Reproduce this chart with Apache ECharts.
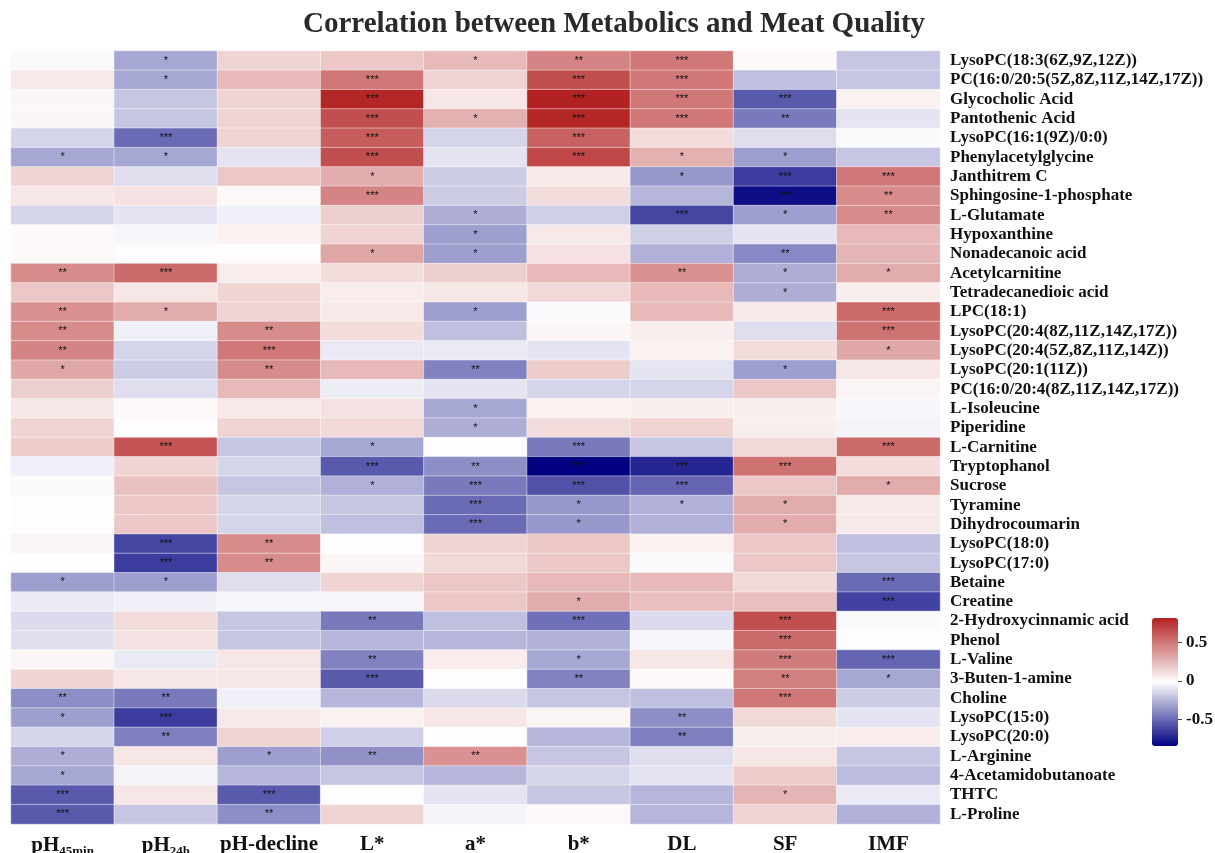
<!DOCTYPE html>
<html>
<head>
<meta charset="utf-8">
<script src="https://cdn.jsdelivr.net/npm/echarts@6/dist/echarts.min.js"></script>
<style>
html,body{margin:0;padding:0;background:#fff;}
#main{width:1215px;height:853px;}
</style>
</head>
<body>
<div id="main"></div>
<script>
// ---------- DATA ----------
const traits = ['pH45min', 'pH24h', 'pH-decline', 'L*', 'a*', 'b*', 'DL', 'SF', 'IMF'];
const metabolites = [
  'LysoPC(18:3(6Z,9Z,12Z))', 'PC(16:0/20:5(5Z,8Z,11Z,14Z,17Z))', 'Glycocholic Acid', 'Pantothenic Acid',
  'LysoPC(16:1(9Z)/0:0)', 'Phenylacetylglycine', 'Janthitrem C', 'Sphingosine-1-phosphate', 'L-Glutamate',
  'Hypoxanthine', 'Nonadecanoic acid', 'Acetylcarnitine', 'Tetradecanedioic acid', 'LPC(18:1)',
  'LysoPC(20:4(8Z,11Z,14Z,17Z))', 'LysoPC(20:4(5Z,8Z,11Z,14Z))', 'LysoPC(20:1(11Z))', 'PC(16:0/20:4(8Z,11Z,14Z,17Z))',
  'L-Isoleucine', 'Piperidine', 'L-Carnitine', 'Tryptophanol', 'Sucrose', 'Tyramine', 'Dihydrocoumarin',
  'LysoPC(18:0)', 'LysoPC(17:0)', 'Betaine', 'Creatine', '2-Hydroxycinnamic acid', 'Phenol', 'L-Valine',
  '3-Buten-1-amine', 'Choline', 'LysoPC(15:0)', 'LysoPC(20:0)', 'L-Arginine', '4-Acetamidobutanoate', 'THTC', 'L-Proline'
];
// correlation values, one array per trait (rows in metabolite order)
const r_pH45min = [-0.03,0.07,0.02,0.02,-0.15,-0.3,0.15,0.08,-0.15,0.01,0.01,0.42,0.2,0.4,0.42,0.45,0.32,0.17,0.08,0.15,0.18,-0.06,-0.03,-0.02,0.0,0.03,-0.01,-0.33,-0.08,-0.13,-0.12,0.02,0.15,-0.38,-0.33,-0.15,-0.28,-0.3,-0.55,-0.55];
const r_pH24h = [-0.3,-0.3,-0.2,-0.2,-0.5,-0.3,-0.12,0.1,-0.1,-0.04,0.0,0.55,0.08,0.3,-0.06,-0.15,-0.18,-0.12,0.01,0.0,0.63,0.15,0.22,0.2,0.2,-0.62,-0.65,-0.33,-0.06,0.12,0.1,-0.08,0.08,-0.45,-0.65,-0.43,0.08,-0.05,0.08,-0.2];
const r_pHdecline = [0.15,0.25,0.15,0.15,0.15,-0.1,0.2,0.01,-0.06,0.04,0.0,0.06,0.15,0.15,0.42,0.5,0.42,0.25,0.07,0.15,-0.2,-0.15,-0.2,-0.15,-0.15,0.42,0.42,-0.12,-0.04,-0.2,-0.2,0.08,0.08,-0.06,0.07,0.15,-0.33,-0.25,-0.55,-0.38];
const r_L = [0.2,0.5,0.8,0.65,0.6,0.65,0.3,0.45,0.17,0.15,0.32,0.12,0.06,0.07,0.12,-0.08,0.25,-0.07,0.1,0.13,-0.3,-0.55,-0.27,-0.2,-0.22,-0.02,0.02,0.15,-0.04,-0.45,-0.25,-0.42,-0.55,-0.25,0.04,-0.17,-0.37,-0.2,0.0,0.15];
const r_a = [0.25,0.15,0.08,0.28,-0.15,-0.1,-0.18,-0.18,-0.28,-0.33,-0.33,0.17,0.08,-0.33,-0.22,-0.08,-0.42,-0.1,-0.3,-0.28,0.0,-0.38,-0.45,-0.5,-0.5,0.15,0.13,0.2,0.2,-0.22,-0.25,0.06,-0.02,-0.13,0.08,-0.02,0.4,-0.25,-0.1,-0.05];
const r_b = [0.45,0.65,0.82,0.8,0.58,0.68,0.07,0.12,-0.17,0.07,0.1,0.25,0.13,-0.03,0.02,-0.1,0.18,-0.15,0.04,0.12,-0.45,-0.845,-0.58,-0.35,-0.35,0.2,0.2,0.25,0.3,-0.48,-0.27,-0.3,-0.42,-0.2,0.03,-0.25,-0.2,-0.15,-0.2,0.01];
const r_DL = [0.5,0.5,0.5,0.5,0.12,0.28,-0.35,-0.25,-0.62,-0.17,-0.27,0.4,0.25,0.25,0.05,0.04,-0.1,-0.15,0.05,0.15,-0.2,-0.72,-0.52,-0.27,-0.27,0.04,-0.03,0.25,0.23,-0.13,-0.04,0.08,0.01,-0.22,-0.38,-0.43,-0.12,-0.1,-0.25,-0.25];
const r_SF = [0.01,-0.22,-0.55,-0.45,-0.12,-0.33,-0.65,-0.8,-0.33,-0.1,-0.4,-0.28,-0.28,0.07,-0.12,0.12,-0.33,0.2,0.05,0.05,0.13,0.52,0.2,0.3,0.3,0.2,0.2,0.13,0.23,0.65,0.55,0.48,0.47,0.5,0.13,0.05,0.08,0.18,0.27,0.15];
const r_IMF = [-0.2,-0.2,0.04,-0.1,-0.03,-0.2,0.5,0.42,0.43,0.25,0.27,0.3,0.05,0.55,0.52,0.32,0.08,0.03,-0.04,-0.05,0.55,0.12,0.3,0.07,0.07,-0.22,-0.2,-0.5,-0.63,-0.03,0.0,-0.52,-0.3,-0.18,-0.1,0.06,-0.2,-0.23,-0.08,-0.27];
// significance marks, one array per trait
const s_pH45min = ['','','','','','*','','','','','','**','','**','**','**','*','','','','','','','','','','','*','','','','','','**','*','','*','*','***','***'];
const s_pH24h = ['*','*','','','***','*','','','','','','***','','*','','','','','','','***','','','','','***','***','*','','','','','','**','***','**','','','',''];
const s_pHdecline = ['','','','','','','','','','','','','','','**','***','**','','','','','','','','','**','**','','','','','','','','','','*','','***','**'];
const s_L = ['','***','***','***','***','***','*','***','','','*','','','','','','','','','','*','***','*','','','','','','','**','','**','***','','','','**','','',''];
const s_a = ['*','','','*','','','','','*','*','*','','','*','','','**','','*','*','','**','***','***','***','','','','','','','','','','','','**','','',''];
const s_b = ['**','***','***','***','***','***','','','','','','','','','','','','','','','***','***','***','*','*','','','','*','***','','*','**','','','','','','',''];
const s_DL = ['***','***','***','***','','*','*','','***','','','**','','','','','','','','','','***','***','*','','','','','','','','','','','**','**','','','',''];
const s_SF = ['','','***','**','','*','***','***','*','','**','*','*','','','','*','','','','','***','','*','*','','','','','***','***','***','**','***','','','','','*',''];
const s_IMF = ['','','','','','','***','**','**','','','*','','***','***','*','','','','','***','','*','','','','','***','***','','','***','*','','','','','','',''];
const colorTicks = [-0.5, 0, 0.5];
const colorMin = -0.845, colorMax = 0.82;

// ---------- BUILD ----------
const rCols = [r_pH45min, r_pH24h, r_pHdecline, r_L, r_a, r_b, r_DL, r_SF, r_IMF];
const sCols = [s_pH45min, s_pH24h, s_pHdecline, s_L, s_a, s_b, s_DL, s_SF, s_IMF];
const cells = [];
rCols.forEach((col, ci) => col.forEach((v, ri) => cells.push([ci, ri, v])));

const serif = "'Liberation Serif', 'Times New Roman', serif";
const chart = echarts.init(document.getElementById('main'), null, {renderer: 'canvas'});
chart.setOption({
  animation: false,
  backgroundColor: '#fff',
  title: {
    text: 'Correlation between Metabolics and Meat Quality',
    left: 609, top: 5, textAlign: 'center',
    textStyle: {fontFamily: serif, fontWeight: 'bold', fontSize: 29, color: '#2a2a2a'}
  },
  grid: [
    {left: 11, top: 51, width: 929, height: 773, containLabel: false, outerBoundsMode: 'none'},
    {left: 1152, top: 618, width: 26, height: 128, containLabel: false, outerBoundsMode: 'none'}
  ],
  xAxis: [
    {
      type: 'category', data: traits, gridIndex: 0, position: 'bottom',
      axisLine: {show: false}, axisTick: {show: false}, splitLine: {show: false},
      axisLabel: {
        margin: 10, interval: 0, color: '#111', fontFamily: serif, fontWeight: 'bold', fontSize: 21,
        formatter: v => v === 'pH45min' ? 'pH{s|45min}' : (v === 'pH24h' ? 'pH{s|24h}' : v),
        rich: {s: {fontFamily: serif, fontWeight: 'bold', fontSize: 13, color: '#111', padding: [11, 0, 0, 0]}}
      }
    },
    {type: 'category', data: ['c'], gridIndex: 1, show: false}
  ],
  yAxis: [
    {
      type: 'category', data: metabolites, gridIndex: 0, inverse: true, position: 'right',
      axisLine: {show: false}, axisTick: {show: false}, splitLine: {show: false},
      axisLabel: {margin: 10, align: 'left', color: '#111', fontFamily: serif, fontWeight: 'bold', fontSize: 17, interval: 0}
    },
    {
      type: 'value', gridIndex: 1, min: colorMin, max: colorMax, position: 'right',
      axisLine: {show: false}, splitLine: {show: false},
      axisTick: {show: true, length: 4, lineStyle: {color: '#444'}, customValues: colorTicks},
      axisLabel: {margin: 8, color: '#111', fontFamily: serif, fontWeight: 'bold', fontSize: 17,
        customValues: colorTicks, formatter: v => String(v)}
    }
  ],
  visualMap: {
    type: 'continuous', min: colorMin, max: colorMax, seriesIndex: 0,
    show: true, calculable: false, text: null, showLabel: false,
    left: 1152, top: 618, itemWidth: 26, itemHeight: 128, padding: 0,
    inRange: {color: ['#000080', '#ffffff', '#b22222']}
  },
  series: [
    {
      type: 'heatmap', xAxisIndex: 0, yAxisIndex: 0, data: cells,
      itemStyle: {borderColor: 'rgba(255,255,255,0.45)', borderWidth: 1},
      label: {
        show: true, color: '#111', fontSize: 11, fontFamily: "'Liberation Sans', sans-serif",
        formatter: p => sCols[p.data[0]][p.data[1]]
      },
      emphasis: {disabled: true}
    }
  ]
});
</script>
</body>
</html>
